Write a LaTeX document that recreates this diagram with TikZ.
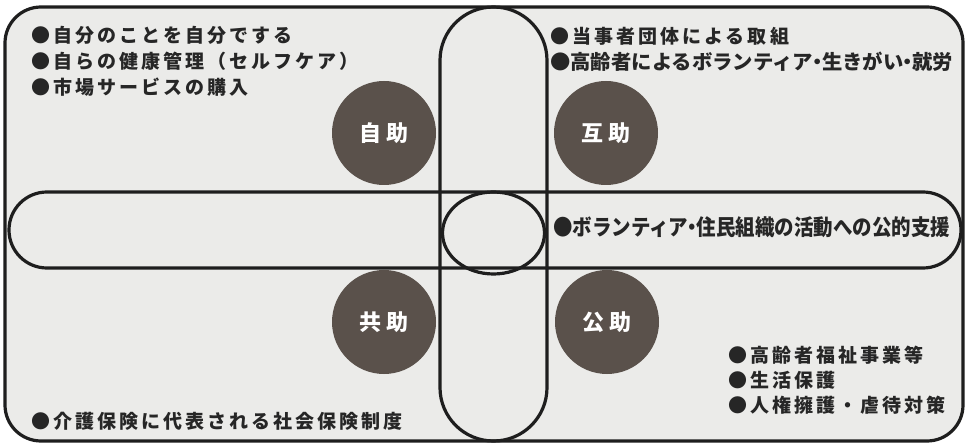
\documentclass[tikz,border=0pt]{standalone}
\usepackage{fontspec}
\usepackage{graphicx}
\newfontfamily\jp{Noto Sans CJK JP}
\newfontfamily\jpsp{Noto Sans CJK JP}[LetterSpace=16]
\definecolor{bgc}{HTML}{EBEBE9}
\definecolor{discc}{HTML}{5A514B}
\definecolor{txtc}{HTML}{262626}
\definecolor{linec}{HTML}{1E1E1E}
\newcommand{\fitto}[2]{\resizebox{#1}{\height}{#2}}
\newcommand{\nd}{\kern-0.28em・\kern-0.28em}
\tikzset{
  border/.style={draw=linec, line width=3.2pt},
  disc/.style={circle, fill=discc, minimum size=104pt, inner sep=0pt, text=white,
    font=\jp\bfseries\fontsize{22}{22}\selectfont},
  item/.style={anchor=west, inner sep=0pt, text=txtc,
    font=\jpsp\bfseries\fontsize{19}{19}\selectfont},
  citem/.style={anchor=west, inner sep=0pt, text=txtc,
    font=\jp\bfseries\fontsize{19}{19}\selectfont},
}
\begin{document}
\begin{tikzpicture}[x=1pt,y=1pt]
\useasboundingbox (0,0) rectangle (967,445);
\fill[white] (0,0) rectangle (967,445);
% outer frame
\draw[border, fill=bgc, rounded corners=36pt] (5,4) rectangle (963,438);
% vertical capsule
\draw[border, rounded corners=53.4pt] (440,4) rectangle (547,438);
% horizontal capsule
\draw[border, rounded corners=37.9pt] (9,177) rectangle (961,253);
% centre ellipse
\draw[border] (493.5,212) ellipse [x radius=51, y radius=41];
% discs
\node[disc] (jijo) at (384,312) {自\hspace{5pt}助};
\node[disc] (gojo) at (606,312) {互\hspace{5pt}助};
\node[disc] (kyojo) at (384,123) {共\hspace{5pt}助};
\node[disc] (kojo) at (607,123) {公\hspace{5pt}助};
% texts top-left
\node[item] (tl1) at (31,410) {●自分のことを自分でする};
\node[item] (tl2) at (31,384) {●自らの健康管理（セルフケア）};
\node[item] (tl3) at (31,358) {●市場サービスの購入};
% top-right
\node[item] (tr1) at (550,409) {●当事者団体による取組};
\node[citem, font=\jp\bfseries\fontsize{20}{20}\selectfont] (tr2) at (550,383) {\fitto{403pt}{●高齢者によるボランティア\nd 生きがい\nd 就労}};
% middle
\node[citem, font=\jp\bfseries\fontsize{22}{22}\selectfont] (mid) at (553,218) {\fitto{397pt}{●ボランティア\nd 住民組織の活動への公的支援}};
% bottom-left
\node[item] (bl) at (31,24) {●介護保険に代表される社会保険制度};
% bottom-right
\node[item] (br1) at (728,90) {●高齢者福祉事業等};
\node[item] (br2) at (728,65) {●生活保護};
\node[item] (br3) at (728,40) {●人権擁護・虐待対策};
\end{tikzpicture}
\end{document}
